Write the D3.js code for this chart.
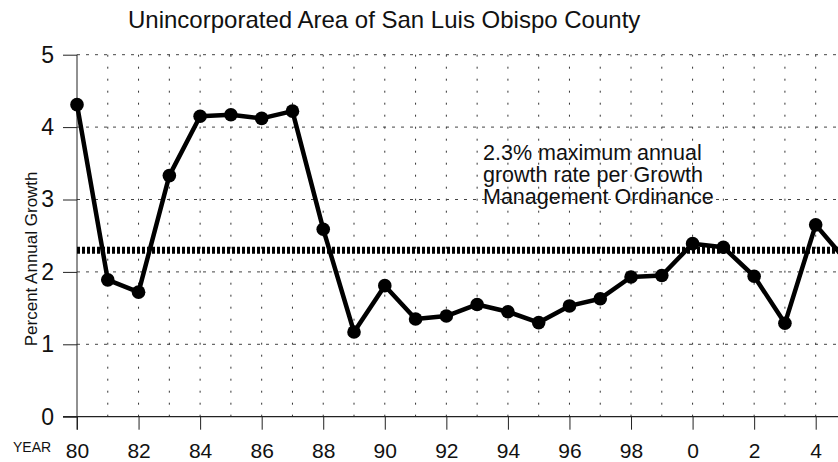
<!DOCTYPE html>
<html>
<head>
<meta charset="utf-8">
<script src="https://cdn.jsdelivr.net/npm/d3@7"></script>
<style>
  body { margin: 0; background: #fff; }
  svg { display: block; font-family: "Liberation Sans", Arial, sans-serif; }
</style>
</head>
<body>
<div id="chart"></div>
<script>
// Annual growth values
const years = [1980, 1981, 1982, 1983, 1984, 1985, 1986, 1987, 1988, 1989, 1990, 1991, 1992,
  1993, 1994, 1995, 1996, 1997, 1998, 1999, 2000, 2001, 2002, 2003, 2004, 2005];
const growth = [4.31, 1.89, 1.72, 3.33, 4.15, 4.17, 4.12, 4.22, 2.59, 1.17, 1.81, 1.35, 1.39,
  1.55, 1.45, 1.30, 1.53, 1.63, 1.93, 1.95, 2.39, 2.34, 1.94, 1.29, 2.65, 2.15];
const xTickYears = [1980, 1982, 1984, 1986, 1988, 1990, 1992, 1994, 1996, 1998, 2000, 2002, 2004];
const xTickLabels = ['80', '82', '84', '86', '88', '90', '92', '94', '96', '98', '0', '2', '4'];
const yTicks = [0, 1, 2, 3, 4, 5];
const maxGrowth = 2.3;
const noteLines = ['2.3% maximum annual', 'growth rate per Growth', 'Management Ordinance'];

function drawChart() {
  const width = 838;
  const height = 462;

  const svg = d3.select('#chart')
    .append('svg')
    .attr('width', width)
    .attr('height', height);

  const x = d3.scaleLinear().domain([1980, 2004]).range([77, 815.7]);
  const y = d3.scaleLinear().domain([0, 5]).range([416.7, 54.7]);

  svg.append('clipPath').attr('id', 'plot')
    .append('rect').attr('x', 0).attr('y', 0).attr('width', width).attr('height', height);

  // Title
  svg.append('text')
    .attr('x', 128).attr('y', 28)
    .attr('font-size', 24)
    .attr('fill', '#111')
    .text('Unincorporated Area of San Luis Obispo County');

  // Vertical dotted grid, one per year
  const grid = svg.append('g');
  grid.selectAll('line.v')
    .data(d3.range(1981, 2006))
    .join('line')
    .attr('x1', d => x(d)).attr('x2', d => x(d))
    .attr('y1', y(5)).attr('y2', y(0))
    .attr('stroke', '#333')
    .attr('stroke-width', 1)
    .attr('stroke-dasharray', '2,10');

  // Horizontal dashed grid
  grid.selectAll('line.h')
    .data(yTicks.filter(d => d > 0))
    .join('line')
    .attr('x1', x(1980)).attr('x2', width)
    .attr('y1', d => y(d)).attr('y2', d => y(d))
    .attr('stroke', '#444')
    .attr('stroke-width', 1)
    .attr('stroke-dasharray', '3,6');

  // Y axis
  const yAxis = d3.axisLeft(y).tickValues(yTicks).tickFormat(d3.format('d')).tickSize(14).tickPadding(9);
  const gy = svg.append('g')
    .attr('transform', `translate(${x(1980)},0)`)
    .call(yAxis);
  gy.select('.domain').remove();
  gy.append('line')
    .attr('x1', 0).attr('x2', 0)
    .attr('y1', y(5)).attr('y2', y(0) + 13)
    .attr('stroke', '#222');
  gy.selectAll('.tick line').attr('stroke', '#222');
  gy.selectAll('.tick text')
    .attr('font-size', 23)
    .attr('fill', '#111')
    .attr('font-family', '"Liberation Sans", Arial, sans-serif');

  // X axis
  const xAxis = d3.axisBottom(x)
    .tickValues(xTickYears)
    .tickFormat((d, i) => xTickLabels[i])
    .tickSize(13)
    .tickPadding(13);
  const gx = svg.append('g')
    .attr('transform', `translate(0,${y(0)})`)
    .call(xAxis);
  gx.select('.domain').remove();
  gx.append('line')
    .attr('x1', 63).attr('x2', width)
    .attr('y1', 0).attr('y2', 0)
    .attr('stroke', '#222')
    .attr('stroke-width', 1.3);
  gx.selectAll('.tick line').attr('stroke', '#222');
  gx.selectAll('.tick text')
    .attr('font-size', 21)
    .attr('fill', '#111')
    .attr('font-family', '"Liberation Sans", Arial, sans-serif');

  svg.append('text')
    .attr('x', 13).attr('y', 452)
    .attr('font-size', 14)
    .attr('fill', '#111')
    .text('YEAR');

  // Y axis title
  svg.append('text')
    .attr('transform', `translate(37,${y(2.18)}) rotate(-90)`)
    .attr('text-anchor', 'middle')
    .attr('font-size', 17)
    .attr('fill', '#111')
    .text('Percent Annual Growth');

  // 2.3% limit line
  svg.append('line')
    .attr('x1', x(1980)).attr('x2', width)
    .attr('y1', y(maxGrowth)).attr('y2', y(maxGrowth))
    .attr('stroke', '#000')
    .attr('stroke-width', 7)
    .attr('stroke-dasharray', '3,2');

  // Note
  svg.append('text')
    .attr('x', 483).attr('y', 160)
    .attr('font-size', 21.5)
    .attr('fill', '#111')
    .selectAll('tspan')
    .data(noteLines)
    .join('tspan')
    .attr('x', 483)
    .attr('dy', (d, i) => i === 0 ? 0 : 22)
    .text(d => d);

  // Series
  const points = years.map((yr, i) => ({ year: yr, value: growth[i] }));
  const line = d3.line().x(d => x(d.year)).y(d => y(d.value));

  const series = svg.append('g').attr('clip-path', 'url(#plot)');
  series.append('path')
    .datum(points)
    .attr('d', line)
    .attr('fill', 'none')
    .attr('stroke', '#000')
    .attr('stroke-width', 4.5)
    .attr('stroke-linejoin', 'round');

  series.selectAll('circle')
    .data(points)
    .join('circle')
    .attr('cx', d => x(d.year))
    .attr('cy', d => y(d.value))
    .attr('r', 6.8)
    .attr('fill', '#000');
}

document.addEventListener('DOMContentLoaded', drawChart);
</script>
</body>
</html>
